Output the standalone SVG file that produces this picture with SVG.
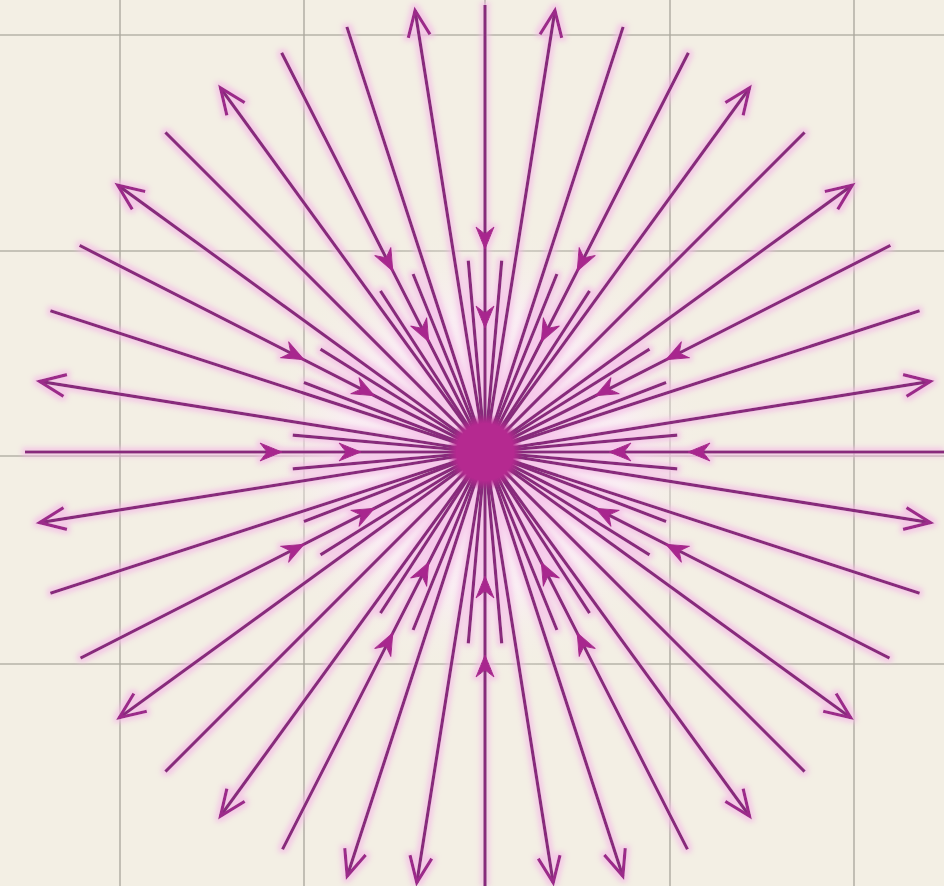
<svg xmlns="http://www.w3.org/2000/svg" width="944" height="886" viewBox="0 0 944 886">
<defs>
<style>
.grid line{stroke:#aba89e;stroke-width:1.6;opacity:.85}
.ray path{fill:none;stroke:#882a7c;stroke-width:3.2;stroke-linecap:butt}
.o{marker-end:url(#out)}
.i{marker-mid:url(#in)}
</style>
<marker id="out" viewBox="-30 -14 34 28" refX="0" refY="0" markerWidth="34" markerHeight="28" markerUnits="userSpaceOnUse" orient="auto" overflow="visible">
<path d="M-26,-11 L0,0 L-26,11" fill="none" stroke="#9c2a8a" stroke-width="3.2" stroke-linejoin="miter"/>
</marker>
<marker id="in" viewBox="-26 -12 28 24" refX="0" refY="0" markerWidth="28" markerHeight="24" markerUnits="userSpaceOnUse" orient="auto" overflow="visible">
<path d="M0,0 L-22,-9 L-15,0 L-22,9 Z" fill="#a8288e" stroke="#a8288e" stroke-width="1" stroke-linejoin="round"/>
</marker>
<filter id="glow" filterUnits="userSpaceOnUse" x="0" y="0" width="944" height="886">
<feMorphology in="SourceAlpha" operator="dilate" radius="2.5" result="d"/>
<feGaussianBlur in="d" stdDeviation="2.5" result="b"/>
<feFlood flood-color="#f4b9e6" flood-opacity="0.7"/>
<feComposite in2="b" operator="in" result="g"/>
<feMerge><feMergeNode in="g"/><feMergeNode in="SourceGraphic"/></feMerge>
</filter>
<radialGradient id="haze" cx="0.5" cy="0.5" r="0.5">
<stop offset="0" stop-color="#fce6f5" stop-opacity="1"/>
<stop offset="0.6" stop-color="#fbeef6" stop-opacity="0.85"/>
<stop offset="1" stop-color="#f3efe4" stop-opacity="0"/>
</radialGradient>
<radialGradient id="core" cx="0.5" cy="0.5" r="0.5">
<stop offset="0" stop-color="#b52990"/>
<stop offset="0.75" stop-color="#b52990"/>
<stop offset="1" stop-color="#b52990" stop-opacity="0"/>
</radialGradient>
</defs>
<rect width="944" height="886" fill="#f3efe4"/>
<g id="grid" class="grid">
<line x1="120" y1="0" x2="120" y2="886"/>
<line x1="304" y1="0" x2="304" y2="886"/>
<line x1="485" y1="0" x2="485" y2="886"/>
<line x1="670" y1="0" x2="670" y2="886"/>
<line x1="854" y1="0" x2="854" y2="886"/>
<line x1="0" y1="35" x2="944" y2="35"/>
<line x1="0" y1="251" x2="944" y2="251"/>
<line x1="0" y1="456" x2="944" y2="456"/>
<line x1="0" y1="664" x2="944" y2="664"/>
</g>
<ellipse cx="485" cy="452" rx="230" ry="230" fill="url(#haze)"/>
<g id="connectors" class="ray" filter="url(#glow)">
<g transform="translate(485,452)">
<g id="inward">
<path class="i" d="M0,-447 L0,-203 L0,-124 L0,0"/>
<path class="i" transform="rotate(27)" d="M0,-448 L0,-203 L0,-124 L0,0"/>
<path class="i" transform="rotate(-27)" d="M0,-448 L0,-203 L0,-124 L0,0"/>
<path class="i" transform="rotate(63)" d="M0,-455 L0,-203 L0,-124 L0,0"/>
<path class="i" transform="rotate(-63)" d="M0,-455 L0,-203 L0,-124 L0,0"/>
<path class="i" transform="rotate(90)" d="M0,-462 L0,-203 L0,-124 L0,0"/>
<path class="i" transform="rotate(-90)" d="M0,-460 L0,-203 L0,-124 L0,0"/>
<path class="i" transform="rotate(117)" d="M0,-454 L0,-203 L0,-124 L0,0"/>
<path class="i" transform="rotate(-117)" d="M0,-454 L0,-203 L0,-124 L0,0"/>
<path class="i" transform="rotate(153)" d="M0,-446 L0,-203 L0,-124 L0,0"/>
<path class="i" transform="rotate(-153)" d="M0,-446 L0,-203 L0,-124 L0,0"/>
<path class="i" transform="rotate(180)" d="M0,-440 L0,-203 L0,-124 L0,0"/>
</g>
<g id="outward">
<path class="o" transform="rotate(9)" d="M0,0 L0,-447"/>
<path class="o" transform="rotate(-9)" d="M0,0 L0,-447"/>
<path class="o" transform="rotate(36)" d="M0,0 L0,-450"/>
<path class="o" transform="rotate(-36)" d="M0,0 L0,-450"/>
<path class="o" transform="rotate(54)" d="M0,0 L0,-454"/>
<path class="o" transform="rotate(-54)" d="M0,0 L0,-454"/>
<path class="o" transform="rotate(81)" d="M0,0 L0,-451"/>
<path class="o" transform="rotate(-81)" d="M0,0 L0,-451"/>
<path class="o" transform="rotate(99)" d="M0,0 L0,-451"/>
<path class="o" transform="rotate(-99)" d="M0,0 L0,-451"/>
<path class="o" transform="rotate(126)" d="M0,0 L0,-452"/>
<path class="o" transform="rotate(-126)" d="M0,0 L0,-452"/>
<path class="o" transform="rotate(144)" d="M0,0 L0,-450"/>
<path class="o" transform="rotate(-144)" d="M0,0 L0,-450"/>
<path class="o" transform="rotate(162)" d="M0,0 L0,-446"/>
<path class="o" transform="rotate(-162)" d="M0,0 L0,-446"/>
<path class="o" transform="rotate(171)" d="M0,0 L0,-436"/>
<path class="o" transform="rotate(-171)" d="M0,0 L0,-436"/>
</g>
<g id="plain">
<path transform="rotate(18)" d="M0,0 L0,-447"/>
<path transform="rotate(-18)" d="M0,0 L0,-447"/>
<path transform="rotate(45)" d="M0,0 L0,-452"/>
<path transform="rotate(-45)" d="M0,0 L0,-452"/>
<path transform="rotate(72)" d="M0,0 L0,-457"/>
<path transform="rotate(-72)" d="M0,0 L0,-457"/>
<path transform="rotate(108)" d="M0,0 L0,-457"/>
<path transform="rotate(-108)" d="M0,0 L0,-457"/>
<path transform="rotate(135)" d="M0,0 L0,-452"/>
<path transform="rotate(-135)" d="M0,0 L0,-452"/>
</g>
<g id="inner">
<path transform="rotate(5)" d="M0,-192 L0,0"/>
<path transform="rotate(-5)" d="M0,-192 L0,0"/>
<path transform="rotate(22)" d="M0,-192 L0,0"/>
<path transform="rotate(-22)" d="M0,-192 L0,0"/>
<path transform="rotate(33)" d="M0,-192 L0,0"/>
<path transform="rotate(-33)" d="M0,-192 L0,0"/>
<path transform="rotate(58)" d="M0,-194 L0,0"/>
<path transform="rotate(-58)" d="M0,-194 L0,0"/>
<path transform="rotate(69)" d="M0,-194 L0,0"/>
<path transform="rotate(-69)" d="M0,-194 L0,0"/>
<path transform="rotate(85)" d="M0,-193 L0,0"/>
<path transform="rotate(-85)" d="M0,-193 L0,0"/>
<path transform="rotate(95)" d="M0,-193 L0,0"/>
<path transform="rotate(-95)" d="M0,-193 L0,0"/>
<path transform="rotate(111)" d="M0,-194 L0,0"/>
<path transform="rotate(-111)" d="M0,-194 L0,0"/>
<path transform="rotate(122)" d="M0,-194 L0,0"/>
<path transform="rotate(-122)" d="M0,-194 L0,0"/>
<path transform="rotate(147)" d="M0,-192 L0,0"/>
<path transform="rotate(-147)" d="M0,-192 L0,0"/>
<path transform="rotate(158)" d="M0,-192 L0,0"/>
<path transform="rotate(-158)" d="M0,-192 L0,0"/>
<path transform="rotate(175)" d="M0,-192 L0,0"/>
<path transform="rotate(-175)" d="M0,-192 L0,0"/>
</g>
</g>
</g>
<g id="center">
<circle cx="485" cy="452" r="38" fill="url(#core)"/>
</g>
</svg>
